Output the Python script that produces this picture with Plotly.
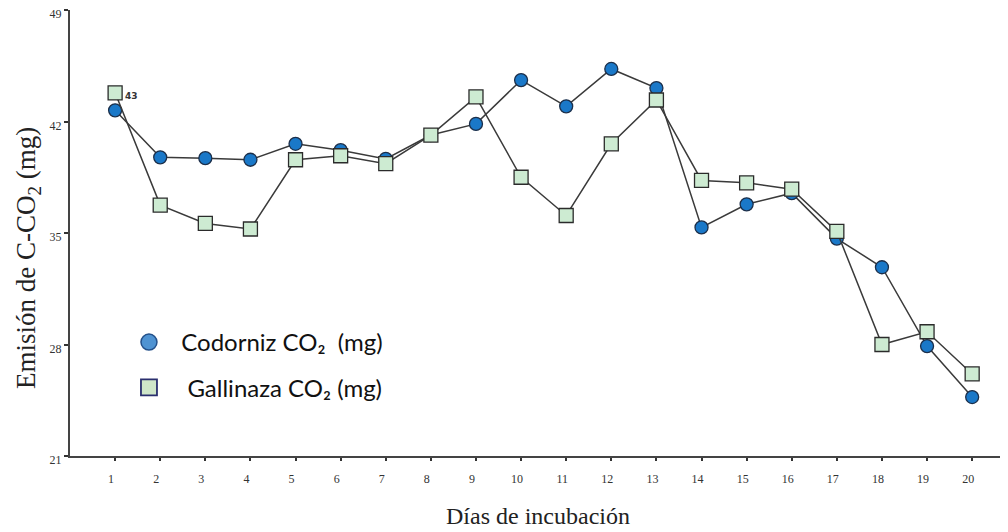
import plotly.graph_objects as go

dias = list(range(1, 21))
codorniz = [42.7, 39.75, 39.7, 39.6, 40.6, 40.2, 39.65, 41.15, 41.85, 44.6,
            42.95, 45.3, 44.1, 35.35, 36.8, 37.5, 34.65, 32.85, 27.9, 24.7]
gallinaza = [43.8, 36.75, 35.6, 35.25, 39.6, 39.85, 39.35, 41.15, 43.55, 38.5,
             36.1, 40.6, 43.35, 38.3, 38.15, 37.75, 35.1, 28.0, 28.8, 26.15]
y_ticks = [21, 28, 35, 42, 49]
label_dia1 = "43"

fig = go.Figure()

fig.add_trace(go.Scatter(
    x=dias, y=codorniz, mode="lines+markers", showlegend=False,
    line=dict(color="#3a3a3a", width=1.5),
    marker=dict(symbol="circle", size=13, color="#1a78c8",
                line=dict(color="#1c2f4a", width=1.3)),
))
fig.add_trace(go.Scatter(
    x=dias, y=gallinaza, mode="lines+markers", showlegend=False,
    line=dict(color="#3a3a3a", width=1.5),
    marker=dict(symbol="square", size=14, color="#cdebd2",
                line=dict(color="#2b2b2b", width=1.3)),
))
# legend entries
fig.add_trace(go.Scatter(
    x=[None], y=[None], mode="markers", name="  Codorniz CO₂  (mg)",
    legendgroup="a",
    marker=dict(symbol="circle", size=20, color="#4f93d2",
                line=dict(color="#23508a", width=1.5)),
))
fig.add_trace(go.Scatter(
    x=[None], y=[None], mode="markers", name="   Gallinaza CO₂ (mg)",
    legendgroup="b",
    marker=dict(symbol="square", size=20, color="#cfe6c9",
                line=dict(color="#2a2f6e", width=1.8)),
))

fig.add_annotation(x=dias[0], y=gallinaza[0], text="<b>" + label_dia1 + "</b>",
                   showarrow=False, xshift=16, yshift=-3,
                   font=dict(family="DejaVu Sans", size=9, color="#333"))

serif = "Liberation Serif"
fig.add_annotation(xref="paper", yref="paper", x=0, y=0.444, xshift=-42,
                   xanchor="center", yanchor="middle", textangle=-90,
                   showarrow=False, text="Emisión de C-CO<sub>2</sub> (mg)",
                   font=dict(family=serif, size=27, color="#222"))

fig.update_layout(
    width=1008, height=532,
    margin=dict(l=62, r=10, t=2, b=84),
    paper_bgcolor="white", plot_bgcolor="white",
    legend=dict(x=0.063, y=0.204, xanchor="left", yanchor="middle",
                font=dict(family="Lato", size=24, color="#111"),
                tracegroupgap=11, bgcolor="rgba(0,0,0,0)", itemsizing="trace"),
    xaxis=dict(
        range=[0, 20.75], tickvals=dias, ticktext=[str(d) for d in dias],
        showgrid=False, zeroline=False, showline=True, linecolor="#444",
        linewidth=2, ticks="outside", ticklen=3, tickwidth=2, tickcolor="#333",
        tickfont=dict(family=serif, size=12, color="#333"),
        ticklabelstandoff=8, ticklabelshift=-4, automargin=False,
        title=dict(text="Días de incubación", standoff=22,
                   font=dict(family=serif, size=24, color="#222")),
    ),
    yaxis=dict(
        range=[21, 49], tickvals=y_ticks, ticktext=[str(v) for v in y_ticks],
        showgrid=False, zeroline=False, showline=True, linecolor="#444",
        linewidth=2, ticks="outside", ticklen=4, tickwidth=2, tickcolor="#333",
        tickfont=dict(family=serif, size=12, color="#333"),
        ticklabelshift=4, ticklabeloverflow="allow", automargin=False,
    ),
)

fig.write_html("out.html")
